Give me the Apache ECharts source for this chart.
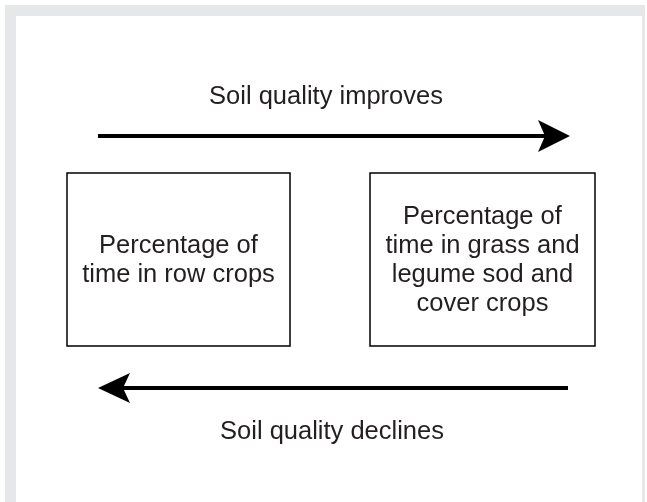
<!DOCTYPE html>
<html>
<head>
<meta charset="utf-8">
<script src="https://cdn.jsdelivr.net/npm/echarts@6/dist/echarts.min.js"></script>
<style>html,body{margin:0;padding:0;background:#fff}#c{width:647px;height:502px}</style>
</head>
<body>
<div id="c"></div>
<script>
// Diagram content
var arrowLabels = ['Soil quality improves', 'Soil quality declines'];
var boxLeftLines = ['Percentage of', 'time in row crops'];
var boxRightLines = ['Percentage of', 'time in grass and', 'legume sod and', 'cover crops'];

var FONT = '"Liberation Sans", Arial, sans-serif';
var TXT = '#231f20';
var FS = 25.5;
var LH = 29;

function textEl(str, cx, cy) {
  return {type: 'text', x: cx, y: cy, style: {text: str, fill: TXT, font: FS + 'px ' + FONT, textAlign: 'center', textVerticalAlign: 'middle'}, silent: true};
}

var g = [];
// frame
g.push({type: 'rect', shape: {x: 5, y: 5, width: 640, height: 497}, style: {fill: '#e6e7e8'}, silent: true});
g.push({type: 'rect', shape: {x: 16, y: 16, width: 626, height: 486}, style: {fill: '#ffffff'}, silent: true});

// top arrow
g.push({type: 'line', shape: {x1: 98, y1: 136, x2: 546, y2: 136}, style: {stroke: '#000', lineWidth: 4}, silent: true});
g.push({type: 'polygon', shape: {points: [[570, 136], [538, 120], [545, 136], [538, 152]]}, style: {fill: '#000'}, silent: true});
// bottom arrow
g.push({type: 'line', shape: {x1: 122, y1: 388, x2: 568, y2: 388}, style: {stroke: '#000', lineWidth: 4}, silent: true});
g.push({type: 'polygon', shape: {points: [[98, 388], [130, 373], [123, 388], [130, 403]]}, style: {fill: '#000'}, silent: true});

// boxes
var BOX_Y = 173, BOX_H = 173;
g.push({type: 'rect', shape: {x: 67, y: BOX_Y, width: 223, height: BOX_H}, style: {fill: 'none', stroke: '#000', lineWidth: 1.5}, silent: true});
g.push({type: 'rect', shape: {x: 370, y: BOX_Y, width: 225, height: BOX_H}, style: {fill: 'none', stroke: '#000', lineWidth: 1.5}, silent: true});

// labels
g.push(textEl(arrowLabels[0], 326, 97));
g.push(textEl(arrowLabels[1], 332, 432));
function boxText(lines, cx) {
  var cy = BOX_Y + BOX_H / 2 + 1;
  lines.forEach(function (s, i) {
    g.push(textEl(s, cx, cy + (i - (lines.length - 1) / 2) * LH));
  });
}
boxText(boxLeftLines, 178.5);
boxText(boxRightLines, 482.5);

var chart = echarts.init(document.getElementById('c'), null, {renderer: 'canvas'});
chart.setOption({
  backgroundColor: '#ffffff',
  animation: false,
  graphic: {elements: g}
});
</script>
</body>
</html>
